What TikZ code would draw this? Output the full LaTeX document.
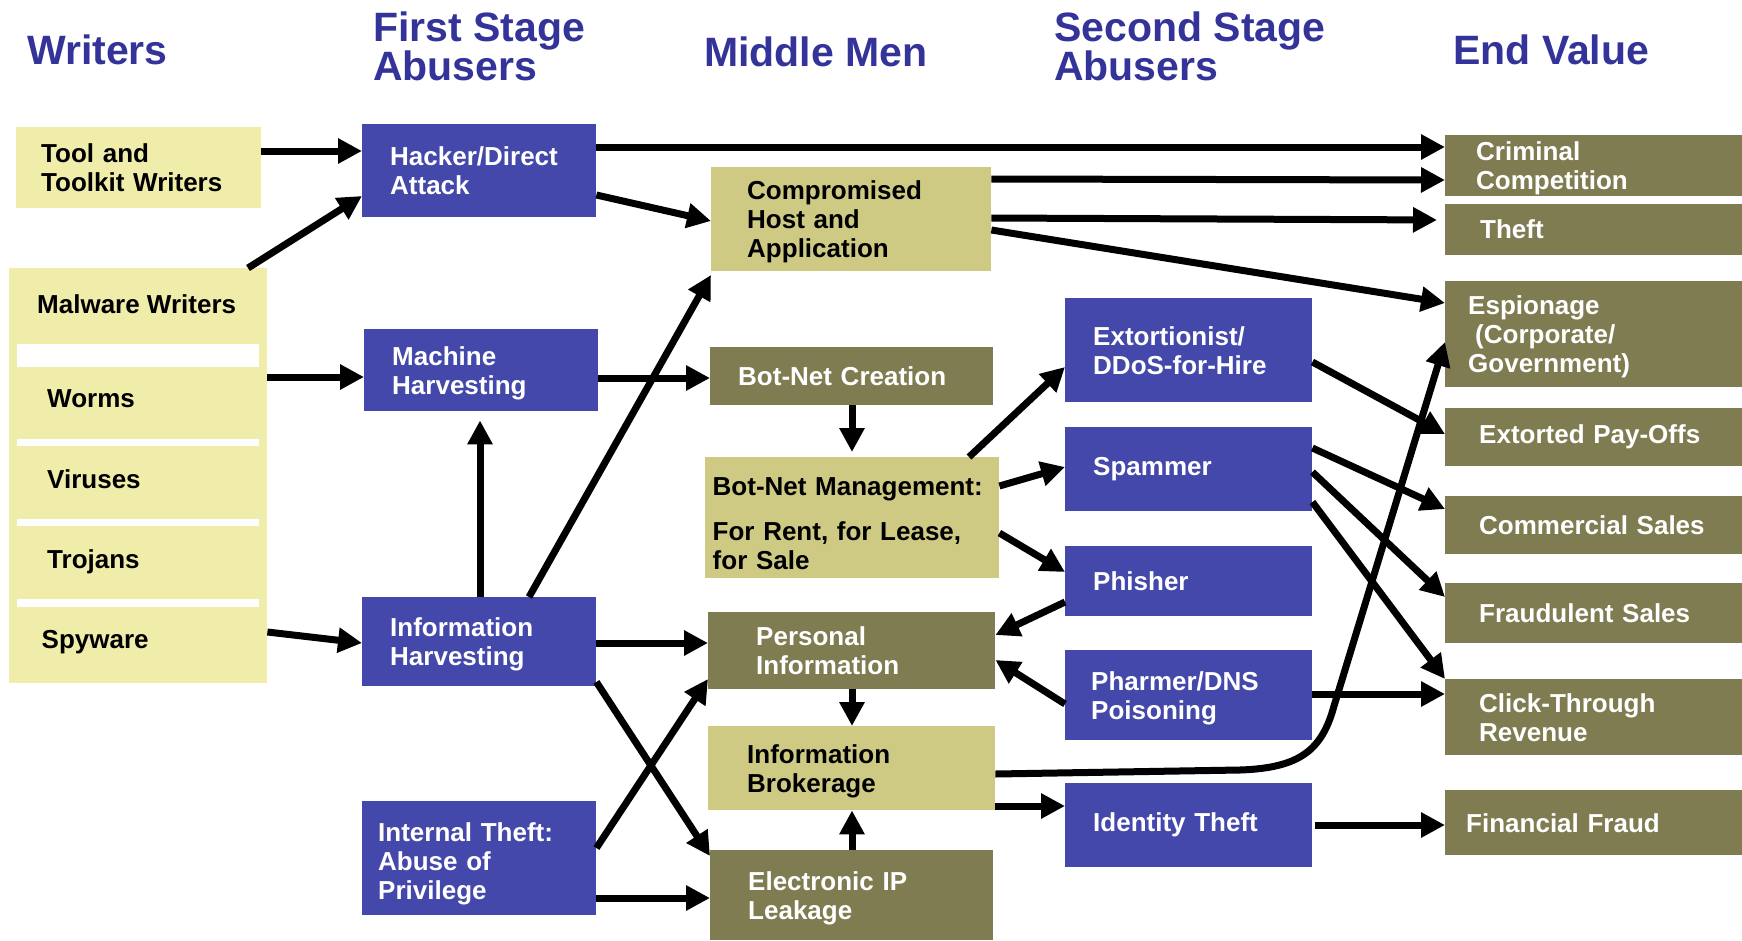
\documentclass[tikz,border=0pt]{standalone}
\usepackage{fontspec}
\setmainfont{Liberation Sans}
\usetikzlibrary{arrows.meta}
\definecolor{headblue}{RGB}{51,51,153}
\definecolor{paleyellow}{RGB}{240,236,170}
\definecolor{boxblue}{RGB}{68,72,170}
\definecolor{khaki}{RGB}{206,202,132}
\definecolor{mudgreen}{RGB}{128,124,82}
\begin{document}
\begin{tikzpicture}[x=1pt,y=-1pt,>={Triangle[length=24pt,width=24pt]}]
\tikzstyle{box} = [
 anchor=north west,
 inner ysep=0pt,
 align=left,
 font=\bfseries\fontsize{26}{29}\selectfont
]
\tikzstyle{two} = [text depth=29pt]
\tikzstyle{three} = [text depth=58pt]
\tikzstyle{writer} = [box, fill=paleyellow]
\tikzstyle{abuser} = [box, fill=boxblue, text=white]
\tikzstyle{broker} = [box, fill=khaki]
\tikzstyle{goods} = [box, fill=mudgreen, text=white]
\tikzstyle{item} = [anchor=base west, inner sep=0pt, font=\bfseries\fontsize{26}{29}\selectfont]
\tikzstyle{head} = [anchor=north west, inner sep=0pt, align=left, text=headblue,
 font=\bfseries\fontsize{41}{39}\selectfont]
\tikzstyle{link} = [draw, ->, line width=7pt]

\path[fill=white, use as bounding box] (0,0) rectangle (1742,940);

% column heads
\node[head] at (27,35)   (hw) {Writers};
\node[head] at (373,12)  (hf) {First Stage\\Abusers};
\node[head] at (704,37)  (hm) {Middle Men};
\node[head] at (1054,12) (hs) {Second Stage\\Abusers};
\node[head] at (1453,35) (he) {End Value};

% writers
\node[writer, two, inner xsep=25pt, text width=195pt, minimum height=81pt] at (16,127) (tool) {Tool and\\Toolkit Writers};
\node[writer, minimum width=258pt, minimum height=415pt] at (9,268) (mal) {};
\fill[white] (17,344) rectangle (259,367);
\fill[white] (17,439) rectangle (259,446);
\fill[white] (17,519) rectangle (259,526);
\fill[white] (17,599) rectangle (259,607);
\node[item] at (37,313)   (mw)  {Malware Writers};
\node[item] at (47,407)   (wrm) {Worms};
\node[item] at (47,488)   (vir) {Viruses};
\node[item] at (47,568)   (tro) {Trojans};
\node[item] at (41.5,648) (spy) {Spyware};

% first stage abusers
\node[abuser, two, inner xsep=28pt, text width=178pt, minimum height=93pt]  at (362,124) (hack)  {Hacker/Direct\\Attack};
\node[abuser, two, inner xsep=28pt, text width=178pt, minimum height=82pt]  at (364,329) (mach)  {Machine\\Harvesting};
\node[abuser, two, inner xsep=28pt, text width=178pt, minimum height=89pt]  at (362,597) (infoh) {Information\\Harvesting};
\node[abuser, text depth=53pt, inner xsep=16pt, text width=202pt, minimum height=114pt] at (362,801) (inth) {Internal Theft:\\Abuse of\\Privilege};

% middle men
\node[broker, three, inner xsep=36pt, text width=208pt, minimum height=104pt] at (711,167) (comp) {Compromised\\Host and\\Application};
\node[goods, inner xsep=28pt, text width=227pt, minimum height=58pt]          at (710,347) (botc) {Bot-Net Creation};
\node[broker, text depth=63pt, inner xsep=7.5pt, text width=279pt, minimum height=121pt] at (705,457) (botm) {Bot-Net Management:\\[16pt]For Rent, for Lease,\\for Sale};
\node[goods, two, inner xsep=48pt, text width=191pt, minimum height=77pt]     at (708,612) (pers) {Personal\\Information};
\node[broker, two, inner xsep=39pt, text width=209pt, minimum height=84pt]    at (708,726) (brok) {Information\\Brokerage};
\node[goods, two, inner xsep=38pt, text width=207pt, minimum height=90pt]     at (710,850) (elip) {Electronic IP\\Leakage};

% second stage abusers
\node[abuser, two, inner xsep=28pt, text width=191pt, minimum height=104pt] at (1065,298) (ext)  {Extortionist/\\DDoS-for-Hire};
\node[abuser, inner xsep=28pt, text width=191pt, minimum height=84pt]       at (1065,427) (spam) {Spammer};
\node[abuser, inner xsep=28pt, text width=191pt, minimum height=70pt]       at (1065,546) (phis) {Phisher};
\node[abuser, two, inner xsep=26pt, text width=195pt, minimum height=90pt]  at (1065,650) (phar) {Pharmer/DNS\\Poisoning};
\node[abuser, inner xsep=28pt, text width=191pt, minimum height=84pt]       at (1065,783) (idth) {Identity Theft};

% end value
\node[goods, two, inner xsep=31pt, text width=258pt, minimum height=61pt]    at (1445,135) (crim) {Criminal\\Competition};
\node[goods, inner xsep=35pt, text width=250pt, minimum height=51pt]         at (1445,204) (thef) {Theft};
\node[goods, three, inner xsep=23pt, text width=274pt, minimum height=106pt] at (1445,281) (espi) {Espionage\\\hspace*{7pt}(Corporate/\\Government)};
\node[goods, inner xsep=34pt, text width=252pt, minimum height=58pt]         at (1445,408) (extp) {Extorted Pay-Offs};
\node[goods, inner xsep=34pt, text width=252pt, minimum height=58pt]         at (1445,496) (coms) {Commercial Sales};
\node[goods, inner xsep=34pt, text width=252pt, minimum height=60pt]         at (1445,583) (frds) {Fraudulent Sales};
\node[goods, two, inner xsep=34pt, text width=252pt, minimum height=76pt]    at (1445,679) (clck) {Click-Through\\Revenue};
\node[goods, inner xsep=21pt, text width=278pt, minimum height=65pt]         at (1445,790) (finf) {Financial Fraud};

% writers -> first stage
\path[link] (tool.east |- 0,151) -- (hack.west |- 0,151);
\path[link] (mal.north -| 248,0) -- (hack.west |- 0,196);
\path[link] (mal.east |- 0,377) -- (mach.west |- 0,377);
\path[link] (mal.east |- 0,632) -- (infoh.west |- 0,643);

% first stage -> middle men
\path[link, shorten >=9pt] (infoh.north -| 480,0) -- (mach.south -| 480,0);
\path[link] (infoh.north -| 529,0) -- (comp.west |- 0,275);
\path[link] (hack.east |- 0,147) -- (crim.west |- 0,147);
\path[link] (hack.east |- 0,195) -- (comp.west |- 0,221);
\path[link] (mach.east |- 0,378) -- (botc.west |- 0,378);
\path[link] (infoh.east |- 0,643) -- (pers.west |- 0,643);
\path[link] (infoh.east |- 0,682) -- (elip.west |- 0,856);
\path[link] (inth.east |- 0,848) -- (pers.west |- 0,679);
\path[link] (inth.east |- 0,898) -- (elip.west |- 0,898);

% middle men
\path[link] (comp.east |- 0,179) -- (crim.west |- 0,180);
\path[link, shorten >=8pt] (comp.east |- 0,218) -- (thef.west |- 0,220);
\path[link] (comp.east |- 0,230) -- (espi.west |- 0,303);
\path[link, shorten >=5pt] (botc.south -| 852,0) -- (botm.north -| 852,0);
\path[link] (botm.north -| 969,0) -- (ext.west |- 0,367);
\path[link] (botm.east |- 0,486) -- (spam.west |- 0,467);
\path[link] (botm.east |- 0,533) -- (phis.west |- 0,572);
\path[link] (pers.south -| 852,0) -- (brok.north -| 852,0);
\path[link] (elip.north -| 852,0) -- (brok.south -| 852,0);
\path[link] (brok.east |- 0,806) -- (idth.west |- 0,806);
\path[link] (brok.east |- 0,774) -- (1240,770) .. controls (1300,768) and (1322,750) .. (1334,706) -- (espi.west |- 0,342);

% second stage
\path[link] (phis.west |- 0,602) -- (pers.east |- 0,635);
\path[link] (phar.west |- 0,704) -- (pers.east |- 0,660);
\path[link] (ext.east |- 0,362) -- (extp.west |- 0,434);
\path[link] (spam.east |- 0,448) -- (coms.west |- 0,509);
\path[link] (spam.east |- 0,472) -- (frds.west |- 0,597);
\path[link] (spam.east |- 0,502) -- (clck.west |- 0,679);
\path[link] (phar.east |- 0,694) -- (clck.west |- 0,694);
\path[link, shorten <=3pt] (idth.east |- 0,825) -- (finf.west |- 0,825);
\end{tikzpicture}
\end{document}
